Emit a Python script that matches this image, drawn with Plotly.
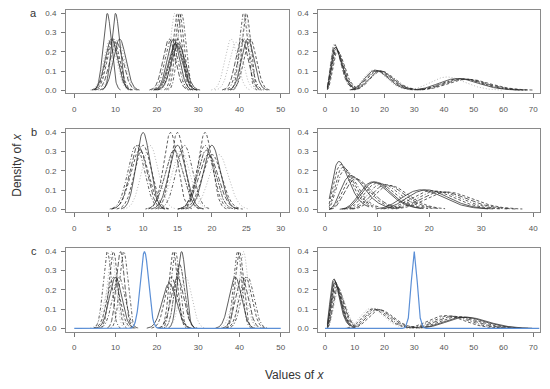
import math
import numpy as np
import plotly.graph_objects as go

# ---------------- data ----------------
# line type codes follow R: 1 solid, 2 dashed, 3 dotted, 4 dotdash, 5 longdash, 6 twodash
# colour codes: k = black, g = grey

# Panel a, left: normal densities (mean, sd)
A_L_MEAN = [8, 10, 9, 11, 9.5, 9.2, 10.2, 8.7, 10.6,
            24.3, 25, 25.5, 26, 23.5, 24, 25, 24.5, 25.2, 23, 24.7,
            38, 39.2, 41, 41.7, 42, 41.2, 40.6, 42.6, 41.4]
A_L_SD = [1, 1, 1.5, 1.5, 1.5, 1.5, 1.6, 1.5, 1.5,
          1, 1, 1, 1, 1.5, 1.5, 1.5, 1.65, 1.65, 1.5, 1.6,
          1.5, 1.6, 1, 1, 1.5, 1.5, 1.5, 1.5, 1]
A_L_LTY = [1, 1, 1, 1, 2, 4, 5, 3, 3,
           3, 2, 2, 4, 4, 1, 2, 1, 1, 5, 6,
           3, 3, 4, 2, 1, 4, 5, 2, 3]
A_L_COL = ["k", "k", "k", "k", "k", "k", "k", "g", "g",
           "g", "k", "k", "k", "k", "k", "k", "k", "k", "k", "k",
           "g", "g", "k", "k", "k", "k", "k", "k", "g"]

# Panel b, left: normal densities
B_L_MEAN = [10, 9, 9.3, 9.5, 11, 10,
            14, 15, 15, 16, 14.5, 15.5,
            19, 20, 19, 19.5, 21, 20, 19.2]
B_L_SD = [1, 1.2, 1.2, 1.3, 1.2, 1.2,
          1, 1, 1.2, 1.2, 1.3, 1.3,
          1, 1.2, 1.2, 1.4, 1.4, 1.4, 1.3]
B_L_LTY = [1, 4, 5, 2, 3, 2,
           2, 2, 1, 4, 6, 3,
           2, 1, 4, 5, 3, 2, 6]
B_L_COL = ["k", "k", "k", "k", "g", "k",
           "k", "k", "k", "k", "k", "g",
           "k", "k", "k", "k", "g", "k", "k"]

# Panel c, left: normal densities
C_L_MEAN = [8, 9, 9.5, 12, 11.2, 10, 9.5, 10.8, 9,
            23, 26, 24, 24.5, 25, 27, 23.5, 25.5,
            39, 40, 41, 39.6, 40.6, 42, 41.5, 40]
C_L_SD = [1, 1, 1, 1, 1, 1.5, 1.5, 1.5, 1.6,
          1.7, 1, 1, 1, 1.5, 1.5, 1.5, 1.2,
          1.5, 1, 1, 1, 1.5, 1.5, 1.5, 1.6]
C_L_LTY = [4, 3, 2, 4, 5, 1, 2, 4, 3,
           1, 1, 2, 4, 5, 3, 2, 6,
           1, 2, 3, 4, 5, 4, 2, 3]
C_L_COL = ["k", "g", "k", "k", "k", "k", "k", "k", "g",
           "k", "k", "k", "k", "k", "g", "k", "k",
           "k", "k", "g", "k", "k", "k", "k", "g"]
C_L_TRUE_MEAN, C_L_TRUE_SD = 17, 1

# Panel a, right: skewed (gamma) densities given by (mode, sd)
A_R_MODE = [3.2, 3.5, 3.8, 4.0, 3.3, 4.3, 3.6,
            16.5, 17, 18, 18.5, 19, 17.5,
            41, 44.5, 46, 47, 45.5, 48]
A_R_SD = [1.8, 1.95, 2.0, 2.05, 1.85, 2.1, 1.95,
          3.8, 3.9, 4.0, 4.0, 4.1, 4.0,
          5.8, 6.6, 6.7, 6.8, 6.6, 7.0]
A_R_LTY = [3, 1, 2, 4, 5, 2, 6,
           3, 1, 2, 1, 4, 5,
           3, 1, 2, 5, 4, 2]
A_R_COL = ["g", "k", "k", "k", "k", "k", "k",
           "g", "k", "k", "k", "k", "k",
           "g", "k", "k", "k", "k", "k"]

# Panel b, right
B_R_MODE = [2.7, 3.1, 3.5, 3.9, 5, 5.5, 6,
            9.2, 9.6, 10.2, 11, 11.8, 12.5,
            18.5, 19.5, 20.5, 21.5, 22.5, 23.5]
B_R_SD = [1.8, 1.9, 2.0, 2.1, 2.45, 2.6, 2.7,
          2.9, 2.9, 3.0, 3.1, 3.2, 3.3,
          4.0, 4.0, 4.2, 4.3, 4.4, 4.5]
B_R_LTY = [1, 2, 2, 4, 1, 2, 5,
           1, 1, 2, 4, 5, 2,
           1, 1, 2, 4, 5, 2]
B_R_COL = ["k"] * 19

# Panel c, right
C_R_MODE = [3, 3.2, 3.4, 3.7, 4, 4.3, 4.6, 3.5,
            15.5, 16.2, 17, 17.8, 18.5, 16.8,
            40.5, 42, 43.5, 45, 46.5, 47.5]
C_R_SD = [1.7, 1.75, 1.8, 1.85, 1.95, 2.0, 2.1, 1.8,
          3.9, 4.0, 4.0, 4.1, 4.2, 3.9,
          6.0, 6.2, 6.4, 6.6, 6.8, 6.9]
C_R_LTY = [1, 1, 2, 4, 2, 5, 3, 6,
           3, 2, 4, 5, 2, 3,
           2, 4, 5, 2, 1, 1]
C_R_COL = ["k", "k", "k", "k", "k", "k", "g", "k",
           "g", "k", "k", "k", "k", "g",
           "k", "k", "k", "k", "k", "k"]
C_R_TRUE_MEAN, C_R_TRUE_SD = 30, 1

# Axis ticks
X_TICKS_AC_LEFT = [0, 10, 20, 30, 40, 50]
X_TICKS_B_LEFT = [0, 5, 10, 15, 20, 25, 30]
X_TICKS_AC_RIGHT = [0, 10, 20, 30, 40, 50, 60, 70]
X_TICKS_B_RIGHT = [0, 10, 20, 30, 40]
Y_TICKS = [0.0, 0.1, 0.2, 0.3, 0.4]
PANEL_LETTERS = ["a", "b", "c"]

# ---------------- helpers ----------------
DASH = {1: "solid", 2: "3px,2px", 3: "1px,2px", 4: "1px,2px,3px,2px",
        5: "5px,2px", 6: "2px,1px,4px,1px"}
COLOR = {"k": "#2a2a2a", "g": "#a0a0a0"}
BLUE = "#5b8fd6"
FONT = "Liberation Sans, Arial, sans-serif"


def norm_pdf(x, m, s):
    return np.exp(-0.5 * ((x - m) / s) ** 2) / (s * math.sqrt(2 * math.pi))


def gamma_pdf(x, mode, sd):
    theta = (-mode + math.sqrt(mode ** 2 + 4 * sd ** 2)) / 2
    k = sd ** 2 / theta ** 2
    return np.exp((k - 1) * np.log(x) - x / theta - math.lgamma(k) - k * math.log(theta))


fig = go.Figure()


def add_line(x, y, idx, lty, col, width=0.75):
    fig.add_trace(go.Scatter(
        x=x, y=y, mode="lines", showlegend=False, hoverinfo="skip",
        line=dict(color=col, width=width, dash=DASH[lty]),
        xaxis=f"x{idx}", yaxis=f"y{idx}"))


def add_normals(means, sds, ltys, cols, idx):
    for m, s, l, c in zip(means, sds, ltys, cols):
        x = np.linspace(m - 3.2 * s, m + 3.2 * s, 90)
        add_line(x, norm_pdf(x, m, s), idx, l, COLOR[c])


def add_gammas(modes, sds, ltys, cols, idx):
    for m, s, l, c in zip(modes, sds, ltys, cols):
        x = np.linspace(max(0.8, m - 2.2 * s), m + 3.2 * s, 150)
        add_line(x, gamma_pdf(x, m, s), idx, l, COLOR[c])


# panel order: 1 a-left, 2 a-right, 3 b-left, 4 b-right, 5 c-left, 6 c-right
add_normals(A_L_MEAN, A_L_SD, A_L_LTY, A_L_COL, 1)
add_gammas(A_R_MODE, A_R_SD, A_R_LTY, A_R_COL, 2)
add_normals(B_L_MEAN, B_L_SD, B_L_LTY, B_L_COL, 3)
add_gammas(B_R_MODE, B_R_SD, B_R_LTY, B_R_COL, 4)
add_normals(C_L_MEAN, C_L_SD, C_L_LTY, C_L_COL, 5)
add_gammas(C_R_MODE, C_R_SD, C_R_LTY, C_R_COL, 6)

xb = np.arange(0, 50.001, 0.25)
add_line(xb, norm_pdf(xb, C_L_TRUE_MEAN, C_L_TRUE_SD), 5, 1, BLUE, 1.2)
xb2 = np.arange(0, 73, 1.0)
add_line(xb2, norm_pdf(xb2, C_R_TRUE_MEAN, C_R_TRUE_SD), 6, 1, BLUE, 1.2)

# ---------------- layout ----------------
W, H = 550, 389
left_dom = [66 / W, 289 / W]
right_dom = [318.3 / W, 540 / W]
row_dom = [[1 - 93.1 / H, 1 - 9.2 / H],
           [1 - 213.1 / H, 1 - 129.2 / H],
           [1 - 333.1 / H, 1 - 249.2 / H]]
panels = [
    (left_dom, row_dom[0], [-2, 52], X_TICKS_AC_LEFT),
    (right_dom, row_dom[0], [-2.25, 72.25], X_TICKS_AC_RIGHT),
    (left_dom, row_dom[1], [-1.2, 31.2], X_TICKS_B_LEFT),
    (right_dom, row_dom[1], [-1.29, 41.29], X_TICKS_B_RIGHT),
    (left_dom, row_dom[2], [-2, 52], X_TICKS_AC_LEFT),
    (right_dom, row_dom[2], [-2.25, 72.25], X_TICKS_AC_RIGHT),
]

layout = dict(width=W, height=H, margin=dict(l=0, r=0, t=0, b=0),
              plot_bgcolor="white", paper_bgcolor="white", showlegend=False,
              font=dict(family=FONT, color="#444"))
tickfont = dict(family=FONT, size=8, color="#555")
for i, (xd, yd, xr, xt) in enumerate(panels, start=1):
    layout[f"xaxis{i}"] = dict(
        domain=xd, range=xr, tickvals=xt, anchor=f"y{i}",
        showgrid=False, zeroline=False, showline=True, mirror=True,
        linecolor="#8a8a8a", linewidth=1, ticks="outside", ticklen=4,
        tickcolor="#777", tickwidth=1, tickfont=tickfont, ticklabelstandoff=4)
    layout[f"yaxis{i}"] = dict(
        domain=yd, range=[-0.016, 0.416], tickvals=Y_TICKS, tickformat=".1f",
        anchor=f"x{i}", showgrid=False, zeroline=False, showline=True,
        mirror=True, linecolor="#8a8a8a", linewidth=1, ticks="outside",
        ticklen=4, tickcolor="#777", tickwidth=1, tickfont=tickfont,
        ticklabelstandoff=3)

annotations = []
for letter, ypix in zip(PANEL_LETTERS, [12, 132, 252]):
    annotations.append(dict(text=letter, x=33.5 / W, y=1 - ypix / H,
                            xref="paper", yref="paper", showarrow=False,
                            xanchor="center", yanchor="middle",
                            font=dict(family=FONT, size=11, color="#333")))
annotations.append(dict(text="Density of <i>x</i>", x=17 / W, y=1 - 165 / H,
                        xref="paper", yref="paper", showarrow=False,
                        textangle=-90, xanchor="center", yanchor="middle",
                        font=dict(family=FONT, size=12, color="#333")))
annotations.append(dict(text="Values of <i>x</i>", x=294 / W, y=1 - 377 / H,
                        xref="paper", yref="paper", showarrow=False,
                        xanchor="center", yanchor="middle",
                        font=dict(family=FONT, size=12, color="#333")))
layout["annotations"] = annotations

fig.update_layout(**layout)
fig.write_html("out.html", config={"displayModeBar": False},
               post_script="document.body.style.margin='0';document.body.style.padding='0';")
